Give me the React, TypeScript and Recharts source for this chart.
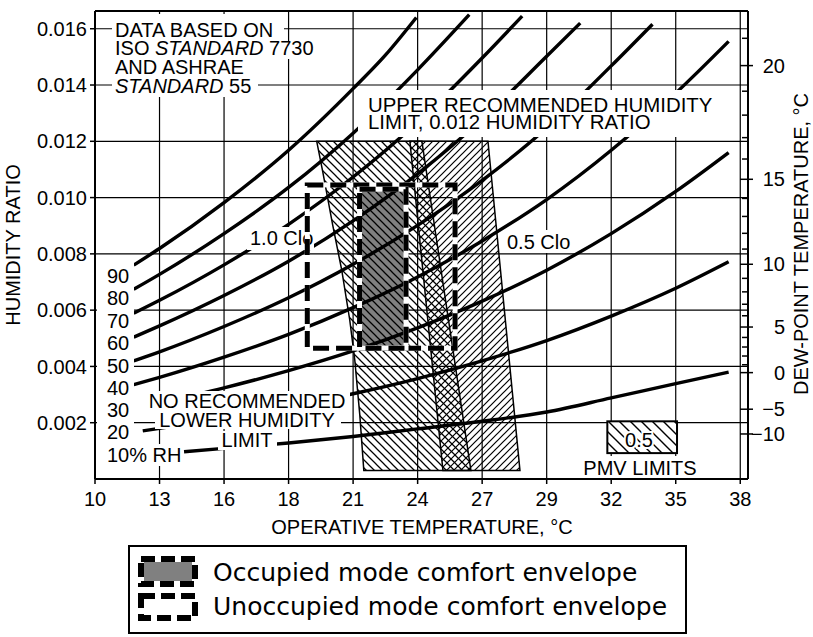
import React from 'react';
import {
  ComposedChart,
  Line,
  XAxis,
  YAxis,
  CartesianGrid,
  ReferenceArea,
  ReferenceLine,
} from 'recharts';

const FONT = '"Liberation Sans", Arial, Helvetica, sans-serif';
const LEGEND_FONT = '"DejaVu Sans", sans-serif';

// ---- axes (x in °F internally, labelled in °C) ----
const X_DOMAIN: [number, number] = [50, 100.6];
const Y_DOMAIN: [number, number] = [0, 0.01663];
const xTicksF = [50, 55, 60, 65, 70, 75, 80, 85, 90, 95, 100];
const xTickLabels = ['10', '13', '16', '18', '21', '24', '27', '29', '32', '35', '38'];
const yTicks = [0.002, 0.004, 0.006, 0.008, 0.01, 0.012, 0.014, 0.016];

// dew-point scale (°C) and its humidity-ratio position
const dewPointC = [-10, -5, 0, 1, 2, 3, 4, 5, 6, 7, 8, 9, 10, 11, 12, 13, 14, 15, 16, 17, 18, 19, 20, 21];
const dewPointW = [
  0.0016, 0.00248, 0.00378, 0.00406, 0.00437, 0.00469, 0.00503, 0.0054, 0.0058, 0.00621, 0.00665,
  0.00713, 0.00763, 0.00817, 0.00873, 0.00933, 0.00997, 0.01065, 0.01137, 0.01213, 0.01293, 0.01378,
  0.01469, 0.01566,
];

// ---- relative humidity curves: [temperature °F, humidity ratio] ----
const rh90 = [[53, 0.0076], [55, 0.00819], [60, 0.00982], [65, 0.01168], [70, 0.01387], [72.5, 0.01506], [74.9, 0.0164]];
const rh80 = [[53, 0.00674], [55, 0.00727], [60, 0.00872], [65, 0.01036], [70, 0.01229], [75, 0.01454], [79, 0.0165]];
const rh70 = [[53, 0.00589], [55, 0.00635], [60, 0.00761], [65, 0.00905], [70, 0.01073], [75, 0.01269], [80, 0.01496], [83.1, 0.01645]];
const rh60 = [[53, 0.00504], [55, 0.00544], [60, 0.00652], [65, 0.00774], [70, 0.00917], [75, 0.01084], [80, 0.01278], [85, 0.01502], [87.6, 0.0162]];
const rh50 = [[53, 0.0042], [55, 0.00452], [60, 0.00542], [65, 0.00644], [70, 0.00763], [75, 0.00901], [80, 0.01061], [85, 0.01247], [90, 0.01468], [93.2, 0.01616]];
const rh40 = [[53, 0.00335], [55, 0.00361], [60, 0.00433], [65, 0.00514], [70, 0.00609], [75, 0.00718], [80, 0.00846], [85, 0.00993], [90, 0.01168], [95, 0.01371], [99.1, 0.01555]];
const rh30 = [[53, 0.00251], [55, 0.00271], [60, 0.00324], [65, 0.00385], [70, 0.00455], [75, 0.00537], [80, 0.00632], [85, 0.00742], [90, 0.00872], [95, 0.01022], [99.1, 0.0116]];
const rh20 = [[53.7, 0.00171], [55, 0.0018], [60, 0.00216], [65, 0.00256], [70, 0.00303], [75, 0.00357], [80, 0.0042], [85, 0.00492], [90, 0.00579], [95, 0.00678], [99.1, 0.00772]];
const rh10 = [[56.9, 0.00097], [60, 0.00109], [65, 0.00128], [70, 0.00151], [75, 0.00178], [80, 0.00205], [85, 0.00238], [90, 0.00288], [95, 0.00339], [99.1, 0.0038]];
const rhCurves = [rh90, rh80, rh70, rh60, rh50, rh40, rh30, rh20, rh10];
const rhLabels = ['90', '80', '70', '60', '50', '40', '30', '20', '10% RH'];

// ---- comfort zones (ASHRAE 55): [°F, humidity ratio] ----
const winterZone = [
  [67.18, 0.012], [75.33, 0.012], [79.13, 0.0003], [70.83, 0.0003], [70.52, 0.00227],
  [70.13, 0.00423], [69.74, 0.00565], [69.12, 0.00742], [68.42, 0.00902], [67.65, 0.01091],
];
const summerZone = [[74.4, 0.012], [80.45, 0.012], [82.93, 0.0003], [76.96, 0.0003]];
const occupiedT = [70.5, 74.1];
const occupiedW = [0.00465, 0.0103];
const unoccupiedT = [66.45, 77.9];
const unoccupiedW = [0.00465, 0.01045];
const pmvT = [89.7, 95.1];
const pmvW = [0.00092, 0.00205];

const legendItems = ['Occupied mode comfort envelope', 'Unoccupied mode comfort envelope'];
const sourceNote = [
  [['DATA BASED ON', false]],
  [['ISO ', false], ['STANDARD', true], [' 7730', false]],
  [['AND ASHRAE', false]],
  [['STANDARD', true], [' 55', false]],
];
const upperNote = ['UPPER RECOMMENDED HUMIDITY', 'LIMIT, 0.012 HUMIDITY RATIO'];
const lowerNote = ['NO RECOMMENDED', 'LOWER HUMIDITY', 'LIMIT'];

const toPts = (arr: number[][]) => arr.map(([t, w]) => ({ t, w }));

const Txt = ({ x, y, anchor = 'start', size = 20, children }: any) => (
  <text x={x} y={y} textAnchor={anchor} fontSize={size} fontFamily={FONT} fill="#000" style={{ whiteSpace: 'pre' }}>
    {children}
  </text>
);
const Bg = ({ x, y, w, h }: any) => <rect x={x} y={y} width={w} height={h} fill="#fff" />;

const ZonesShape = (p: any) => {
  const sx = (t: number) => p.x + ((t - X_DOMAIN[0]) / (X_DOMAIN[1] - X_DOMAIN[0])) * p.width;
  const sy = (w: number) => p.y + ((Y_DOMAIN[1] - w) / (Y_DOMAIN[1] - Y_DOMAIN[0])) * p.height;
  const pts = (arr: number[][]) => arr.map(([t, w]) => `${sx(t)},${sy(w)}`).join(' ');
  return (
    <g>
      <defs>
        <pattern id="hatchBack" patternUnits="userSpaceOnUse" width="8" height="8">
          <path d="M0,0 L8,8 M-2,6 L2,10 M6,-2 L10,2" stroke="#000" strokeWidth="1.25" />
        </pattern>
        <pattern id="hatchFwd" patternUnits="userSpaceOnUse" width="7" height="7">
          <path d="M0,7 L7,0 M-2,2 L2,-2 M5,9 L9,5" stroke="#000" strokeWidth="1.2" />
        </pattern>
        <pattern id="hatchPmv" patternUnits="userSpaceOnUse" width="11" height="11">
          <path d="M0,0 L11,11 M-2,9 L2,13 M9,-2 L13,2" stroke="#000" strokeWidth="1.4" />
        </pattern>
      </defs>
      <polygon points={pts(summerZone)} fill="url(#hatchFwd)" stroke="#000" strokeWidth={1.5} />
      <polygon points={pts(winterZone)} fill="url(#hatchBack)" stroke="#000" strokeWidth={1.5} />
    </g>
  );
};

const PmvShape = (p: any) => (
  <g>
    <rect x={p.x} y={p.y} width={p.width} height={p.height} fill="#fff" />
    <rect x={p.x} y={p.y} width={p.width} height={p.height} fill="url(#hatchPmv)" stroke="#000" strokeWidth={2} />
  </g>
);

const DashedRect = (p: any) => (
  <g>
    <rect x={p.x} y={p.y} width={p.width} height={p.height} fill="none" stroke="#fff" strokeWidth={5} />
    <rect x={p.x} y={p.y} width={p.width} height={p.height} fill="none" stroke="#000" strokeWidth={5} strokeDasharray="16 7" />
  </g>
);

const AnnotationShape = () => {
  const rhBase = [283, 305, 328, 350, 373, 395, 417, 439, 462];
  const srcBase = [36.5, 55.2, 73.9, 92.6];
  return (
    <g>
      {/* source note */}
      <Bg x={112} y={14} w={172} h={27} />
      <Bg x={112} y={41} w={209} h={18} />
      <Bg x={112} y={59} w={138} h={19} />
      <Bg x={112} y={78} w={146} h={19} />
      {sourceNote.map((line, i) => (
        <Txt key={i} x={115} y={srcBase[i]}>
          {line.map((seg: any, j: number) => (
            <tspan key={j} fontStyle={seg[1] ? 'italic' : 'normal'}>{seg[0]}</tspan>
          ))}
        </Txt>
      ))}
      {/* upper limit note */}
      <Bg x={358} y={90} w={381} h={47} />
      <Txt x={368} y={111.5} size={20.4}>{upperNote[0]}</Txt>
      <Txt x={368} y={129} size={20.4}>{upperNote[1]}</Txt>
      {/* clo labels */}
      <Bg x={247} y={227} w={67} h={23} />
      <Txt x={250} y={245}>1.0 Clo</Txt>
      <Bg x={503} y={230} w={70} h={23} />
      <Txt x={507} y={249}>0.5 Clo</Txt>
      {/* lower limit note */}
      <Bg x={133} y={391} w={217} h={20} />
      <Bg x={155} y={411} w={186} h={18} />
      <Bg x={218} y={431} w={59} h={19} />
      <Txt x={247} y={408} anchor="middle">{lowerNote[0]}</Txt>
      <Txt x={247} y={427} anchor="middle">{lowerNote[1]}</Txt>
      <Txt x={247} y={447} anchor="middle">{lowerNote[2]}</Txt>
      {/* RH labels */}
      <Bg x={97} y={262} w={37} h={180} />
      <Bg x={104} y={444} w={78} h={22} />
      {rhLabels.map((l, i) => (
        <Txt key={l} x={107} y={rhBase[i]}>{l}</Txt>
      ))}
      {/* PMV */}
      <text x={639} y={447} textAnchor="middle" fontSize={20} fontFamily={FONT} fill="#000" stroke="#fff" strokeWidth={4} paintOrder="stroke">0.5</text>
      <Bg x={580} y={456} w={120} h={22} />
      <Txt x={640} y={475} anchor="middle">PMV LIMITS</Txt>
      {/* axis titles */}
      <Txt x={422} y={534} anchor="middle">OPERATIVE TEMPERATURE, °C</Txt>
      <g transform="translate(20,245) rotate(-90)">
        <Txt x={0} y={0} anchor="middle">HUMIDITY RATIO</Txt>
      </g>
      <g transform="translate(808,244) rotate(-90)">
        <Txt x={0} y={0} anchor="middle">DEW-POINT TEMPERATURE, °C</Txt>
      </g>
    </g>
  );
};

const DewTick = (props: any) => {
  const { x, y, payload } = props;
  let idx = 0;
  let best = Infinity;
  dewPointW.forEach((w, i) => {
    const d = Math.abs(w - payload.value);
    if (d < best) {
      best = d;
      idx = i;
    }
  });
  const c = dewPointC[idx];
  const major = c % 5 === 0;
  return (
    <g>
      <line x1={x - (major ? 8 : 6)} x2={x + (major ? 5 : 0)} y1={y} y2={y} stroke="#000" strokeWidth={1.5} />
      {major && (
        <text x={x + 37} y={y + 7} textAnchor="end" fontSize={20} fontFamily={FONT} fill="#000">
          {c < 0 ? `\u2212${-c}` : `${c}`}
        </text>
      )}
    </g>
  );
};

export default function App() {
  return (
    <div style={{ position: 'absolute', left: 0, top: 0, width: 813, height: 637, background: '#fff' }}>
      <ComposedChart width={813} height={637} margin={{ top: 11, right: 0, bottom: 108, left: 0 }}>
        <CartesianGrid yAxisId="left" stroke="#000" strokeWidth={1.2} />
        <XAxis
          dataKey="t"
          type="number"
          domain={X_DOMAIN}
          ticks={xTicksF}
          interval={0}
          allowDataOverflow
          tickFormatter={(v: number) => xTickLabels[xTicksF.indexOf(v)]}
          height={50}
          tickSize={5}
          tickMargin={8}
          axisLine={{ stroke: '#000', strokeWidth: 2 }}
          tickLine={{ stroke: '#000', strokeWidth: 1.5 }}
          tick={{ fontSize: 20, fill: '#000', fontFamily: FONT }}
        />
        <YAxis
          yAxisId="left"
          type="number"
          domain={Y_DOMAIN}
          ticks={yTicks}
          interval={0}
          allowDataOverflow
          width={95}
          tickSize={5}
          tickMargin={3}
          tickFormatter={(v: number) => v.toFixed(3)}
          axisLine={{ stroke: '#000', strokeWidth: 2 }}
          tickLine={{ stroke: '#000', strokeWidth: 1.5 }}
          tick={{ fontSize: 20, fill: '#000', fontFamily: FONT }}
        />
        <YAxis
          yAxisId="right"
          orientation="right"
          type="number"
          domain={Y_DOMAIN}
          ticks={dewPointW}
          interval={0}
          allowDataOverflow
          width={65}
          tickLine={false}
          tickSize={0}
          tickMargin={0}
          axisLine={{ stroke: '#000', strokeWidth: 2 }}
          tick={<DewTick />}
        />
        <ReferenceArea
          yAxisId="left"
          x1={occupiedT[0]}
          x2={occupiedT[1]}
          y1={occupiedW[0]}
          y2={occupiedW[1]}
          fill="#808080"
          fillOpacity={1}
          stroke="none"
          zIndex={90}
        />
        <ReferenceArea
          yAxisId="left"
          x1={X_DOMAIN[0]}
          x2={X_DOMAIN[1]}
          y1={Y_DOMAIN[0]}
          y2={Y_DOMAIN[1]}
          shape={(p: any) => <ZonesShape {...p} />}
          zIndex={95}
        />
        <ReferenceArea
          yAxisId="left"
          x1={pmvT[0]}
          x2={pmvT[1]}
          y1={pmvW[0]}
          y2={pmvW[1]}
          shape={(p: any) => <PmvShape {...p} />}
          zIndex={96}
        />
        {rhCurves.map((c, i) => (
          <Line
            key={rhLabels[i]}
            yAxisId="left"
            data={toPts(c)}
            dataKey="w"
            type="monotone"
            stroke="#000"
            strokeWidth={3.4}
            dot={false}
            activeDot={false}
            isAnimationActive={false}
          />
        ))}
        <ReferenceArea
          yAxisId="left"
          x1={X_DOMAIN[0]}
          x2={X_DOMAIN[1]}
          y1={Y_DOMAIN[0]}
          y2={Y_DOMAIN[1]}
          shape={() => <AnnotationShape />}
          zIndex={1500}
        />
        <ReferenceArea
          yAxisId="left"
          x1={unoccupiedT[0]}
          x2={unoccupiedT[1]}
          y1={unoccupiedW[0]}
          y2={unoccupiedW[1]}
          shape={(p: any) => <DashedRect {...p} />}
          zIndex={1600}
        />
        <ReferenceArea
          yAxisId="left"
          x1={occupiedT[0]}
          x2={occupiedT[1]}
          y1={occupiedW[0]}
          y2={occupiedW[1]}
          shape={(p: any) => <DashedRect {...p} />}
          zIndex={1601}
        />
        <ReferenceLine yAxisId="left" y={Y_DOMAIN[1]} stroke="#000" strokeWidth={2} />
      </ComposedChart>
      <svg style={{ position: 'absolute', left: 128, top: 545 }} width={559} height={89}>
        <rect x={1} y={1} width={557} height={87} fill="#fff" stroke="#000" strokeWidth={2} />
        <rect x={13} y={14} width={54} height={25} fill="#808080" stroke="#fff" strokeWidth={6} />
        <rect x={13} y={14} width={54} height={25} fill="none" stroke="#000" strokeWidth={6} strokeDasharray="14 6" />
        <rect x={13} y={51} width={54} height={22} fill="none" stroke="#000" strokeWidth={6} strokeDasharray="14 6" />
        {legendItems.map((l, i) => (
          <text key={l} x={85} y={i === 0 ? 36 : 70} fontSize={25} fontFamily={LEGEND_FONT} fill="#000">
            {l}
          </text>
        ))}
      </svg>
    </div>
  );
}
